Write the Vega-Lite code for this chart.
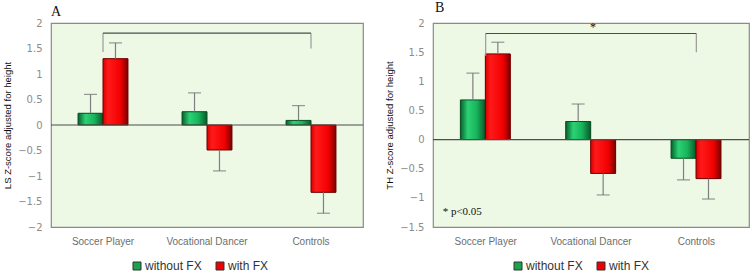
{
  "$schema": "https://vega.github.io/schema/vega-lite/v6.json",
  "padding": {"left": 2, "right": 2, "top": 0, "bottom": 0},
  "spacing": 19,
  "config": {
    "view": {"fill": "#EDF8E5", "stroke": "#8A8A8A", "strokeWidth": 1.2},
    "axis": {"grid": false, "ticks": false, "domain": false, "labelOverlap": false, "labelFont": "DejaVu Sans", "labelFontSize": 10, "labelColor": "#8C8C8C", "titleFont": "Liberation Sans", "titleFontSize": 9.5, "titleFontWeight": "normal", "titleColor": "#111111"},
    "legend": {"labelFont": "Liberation Sans", "labelFontSize": 12, "labelColor": "#333333", "symbolType": "square", "symbolSize": 64, "symbolStrokeWidth": 1, "padding": 0, "columnPadding": 12, "labelOffset": 2},
    "title": {"font": "Liberation Serif", "fontSize": 14, "fontWeight": "normal", "anchor": "start", "frame": "group", "baseline": "alphabetic", "color": "#111111"}
  },
  "datasets": {
    "ls": [
      {"group": "Soccer Player", "fx": "without FX", "z": 0.23, "err": 0.6},
      {"group": "Soccer Player", "fx": "with FX", "z": 1.3, "err": 1.61},
      {"group": "Vocational Dancer", "fx": "without FX", "z": 0.26, "err": 0.63},
      {"group": "Vocational Dancer", "fx": "with FX", "z": -0.49, "err": -0.9},
      {"group": "Controls", "fx": "without FX", "z": 0.09, "err": 0.38},
      {"group": "Controls", "fx": "with FX", "z": -1.32, "err": -1.73}
    ],
    "th": [
      {"group": "Soccer Player", "fx": "without FX", "z": 0.68, "err": 1.14},
      {"group": "Soccer Player", "fx": "with FX", "z": 1.47, "err": 1.67},
      {"group": "Vocational Dancer", "fx": "without FX", "z": 0.31, "err": 0.61},
      {"group": "Vocational Dancer", "fx": "with FX", "z": -0.58, "err": -0.95},
      {"group": "Controls", "fx": "without FX", "z": -0.32, "err": -0.69},
      {"group": "Controls", "fx": "with FX", "z": -0.67, "err": -1.02}
    ],
    "bracketA": [
      {"group": "Soccer Player", "z": 1.8, "err": 1.43},
      {"group": "Controls", "z": 1.8, "err": 1.5}
    ],
    "bracketB": [
      {"group": "Soccer Player", "z": 1.82, "err": 1.44},
      {"group": "Controls", "z": 1.82, "err": 1.5}
    ],
    "spanA": [{"group": "Soccer Player", "to": "Controls", "z": 1.8}],
    "spanB": [{"group": "Soccer Player", "to": "Controls", "z": 1.82}],
    "starB": [{"group": "Vocational Dancer", "z": 1.82, "text": "*"}],
    "noteB": [{"group": "Soccer Player", "z": -1.25, "text": "* p<0.05"}]
  },
  "resolve": {"scale": {"color": "independent", "y": "independent"}, "legend": {"color": "independent"}},
  "hconcat": [
    {
      "width": 312,
      "height": 204,
      "title": {"text": "A", "dx": 0, "offset": -1},
      "encoding": {
        "x": {"field": "group", "type": "nominal", "scale": {"domain": ["Soccer Player", "Vocational Dancer", "Controls"], "paddingInner": 0.52, "paddingOuter": 0.26}, "axis": {"title": null, "labelAngle": 0, "labelPadding": 9, "labelColor": "#6E6E6E", "labelFont": "Liberation Sans", "labelFontSize": 10}},
        "y": {"field": "z", "type": "quantitative", "scale": {"domain": [-2, 2], "nice": false}, "axis": {"title": "LS Z-score adjusted for height", "values": [-2, -1.5, -1, -0.5, 0, 0.5, 1, 1.5, 2], "format": ".1~f", "labelPadding": 9, "titlePadding": 5}}
      },
      "layer": [
        {
          "data": {"name": "ls"},
          "mark": {"type": "bar"},
          "encoding": {
            "xOffset": {"field": "fx", "type": "nominal", "scale": {"domain": ["without FX", "with FX"], "paddingInner": 0, "paddingOuter": 0}},
            "color": {"field": "fx", "type": "nominal", "scale": {"domain": ["without FX", "with FX"], "range": ["#1BA24C", "#EE0000"]}, "legend": {"title": null, "orient": "none", "direction": "horizontal", "legendX": 80, "legendY": 237, "symbolStrokeColor": "#333333"}}
          }
        },
        {
          "data": {"name": "ls"},
          "mark": {"type": "bar", "strokeWidth": 1},
          "encoding": {
            "xOffset": {"field": "fx", "type": "nominal"},
            "fill": {
              "condition": {"test": "datum.fx === 'with FX'", "value": {"gradient": "linear", "x1": 0, "y1": 0, "x2": 1, "y2": 0, "stops": [{"offset": 0, "color": "#D80000"}, {"offset": 0.2, "color": "#FF1A1A"}, {"offset": 0.7, "color": "#F20000"}, {"offset": 1, "color": "#7A0000"}]}},
              "value": {"gradient": "linear", "x1": 0, "y1": 0, "x2": 1, "y2": 0, "stops": [{"offset": 0, "color": "#07602C"}, {"offset": 0.3, "color": "#2BD274"}, {"offset": 0.65, "color": "#18B45C"}, {"offset": 1, "color": "#085A28"}]}
            },
            "stroke": {"condition": {"test": "datum.fx === 'with FX'", "value": "#6E0000"}, "value": "#0A4F25"}
          }
        },
        {
          "data": {"name": "ls"},
          "mark": {"type": "rule", "color": "#7F7F7F", "strokeWidth": 1.2},
          "encoding": {
            "xOffset": {"field": "fx", "type": "nominal"},
            "y2": {"field": "err"}
          }
        },
        {
          "data": {"name": "ls"},
          "mark": {"type": "tick", "orient": "horizontal", "color": "#6F6F6F", "size": 13, "thickness": 1.2},
          "encoding": {
            "xOffset": {"field": "fx", "type": "nominal"},
            "y": {"field": "err", "type": "quantitative"}
          }
        },
        {
          "data": {"values": [{"z": 0}]},
          "mark": {"type": "rule", "color": "#4D4D4D", "strokeWidth": 1.2},
          "encoding": {"x": null}
        },
        {
          "data": {"name": "bracketA"},
          "mark": {"type": "rule", "color": "#9A9A9A", "strokeWidth": 1.2},
          "encoding": {"y2": {"field": "err"}}
        },
        {
          "data": {"name": "spanA"},
          "mark": {"type": "rule", "color": "#4D4D4D", "strokeWidth": 1.2},
          "encoding": {"x2": {"field": "to"}}
        }
      ]
    },
    {
      "width": 316,
      "height": 204,
      "title": {"text": "B", "dx": 2, "offset": 3},
      "encoding": {
        "x": {"field": "group", "type": "nominal", "scale": {"domain": ["Soccer Player", "Vocational Dancer", "Controls"], "paddingInner": 0.52, "paddingOuter": 0.26}, "axis": {"title": null, "labelAngle": 0, "labelPadding": 9, "labelColor": "#6E6E6E", "labelFont": "Liberation Sans", "labelFontSize": 10}},
        "y": {"field": "z", "type": "quantitative", "scale": {"domain": [-1.5, 2], "nice": false}, "axis": {"title": "TH Z-score adjusted for height", "values": [-1.5, -1, -0.5, 0, 0.5, 1, 1.5, 2], "format": ".1~f", "labelPadding": 9, "titlePadding": 5}}
      },
      "layer": [
        {
          "data": {"name": "th"},
          "mark": {"type": "bar"},
          "encoding": {
            "xOffset": {"field": "fx", "type": "nominal", "scale": {"domain": ["without FX", "with FX"], "paddingInner": 0, "paddingOuter": 0}},
            "color": {"field": "fx", "type": "nominal", "scale": {"domain": ["without FX", "with FX"], "range": ["#1BA24C", "#EE0000"]}, "legend": {"title": null, "orient": "none", "direction": "horizontal", "legendX": 79, "legendY": 237, "symbolStrokeColor": "#333333"}}
          }
        },
        {
          "data": {"name": "th"},
          "mark": {"type": "bar", "strokeWidth": 1},
          "encoding": {
            "xOffset": {"field": "fx", "type": "nominal"},
            "fill": {
              "condition": {"test": "datum.fx === 'with FX'", "value": {"gradient": "linear", "x1": 0, "y1": 0, "x2": 1, "y2": 0, "stops": [{"offset": 0, "color": "#D80000"}, {"offset": 0.2, "color": "#FF1A1A"}, {"offset": 0.7, "color": "#F20000"}, {"offset": 1, "color": "#7A0000"}]}},
              "value": {"gradient": "linear", "x1": 0, "y1": 0, "x2": 1, "y2": 0, "stops": [{"offset": 0, "color": "#07602C"}, {"offset": 0.3, "color": "#2BD274"}, {"offset": 0.65, "color": "#18B45C"}, {"offset": 1, "color": "#085A28"}]}
            },
            "stroke": {"condition": {"test": "datum.fx === 'with FX'", "value": "#6E0000"}, "value": "#0A4F25"}
          }
        },
        {
          "data": {"name": "th"},
          "mark": {"type": "rule", "color": "#7F7F7F", "strokeWidth": 1.2},
          "encoding": {
            "xOffset": {"field": "fx", "type": "nominal"},
            "y2": {"field": "err"}
          }
        },
        {
          "data": {"name": "th"},
          "mark": {"type": "tick", "orient": "horizontal", "color": "#6F6F6F", "size": 13, "thickness": 1.2},
          "encoding": {
            "xOffset": {"field": "fx", "type": "nominal"},
            "y": {"field": "err", "type": "quantitative"}
          }
        },
        {
          "data": {"values": [{"z": 0}]},
          "mark": {"type": "rule", "color": "#4D4D4D", "strokeWidth": 1.2},
          "encoding": {"x": null}
        },
        {
          "data": {"name": "bracketB"},
          "mark": {"type": "rule", "color": "#9A9A9A", "strokeWidth": 1.2},
          "encoding": {"y2": {"field": "err"}}
        },
        {
          "data": {"name": "spanB"},
          "mark": {"type": "rule", "color": "#4D4D4D", "strokeWidth": 1.2},
          "encoding": {"x2": {"field": "to"}}
        },
        {
          "data": {"name": "starB"},
          "mark": {"type": "text", "font": "Liberation Serif", "fontSize": 12, "baseline": "bottom", "dx": 2, "dy": 1, "fill": "#111111"},
          "encoding": {"text": {"field": "text"}}
        },
        {
          "data": {"name": "noteB"},
          "mark": {"type": "text", "font": "Liberation Serif", "fontSize": 11, "align": "left", "baseline": "middle", "dx": -43, "fill": "#111111"},
          "encoding": {"text": {"field": "text"}}
        }
      ]
    }
  ]
}
